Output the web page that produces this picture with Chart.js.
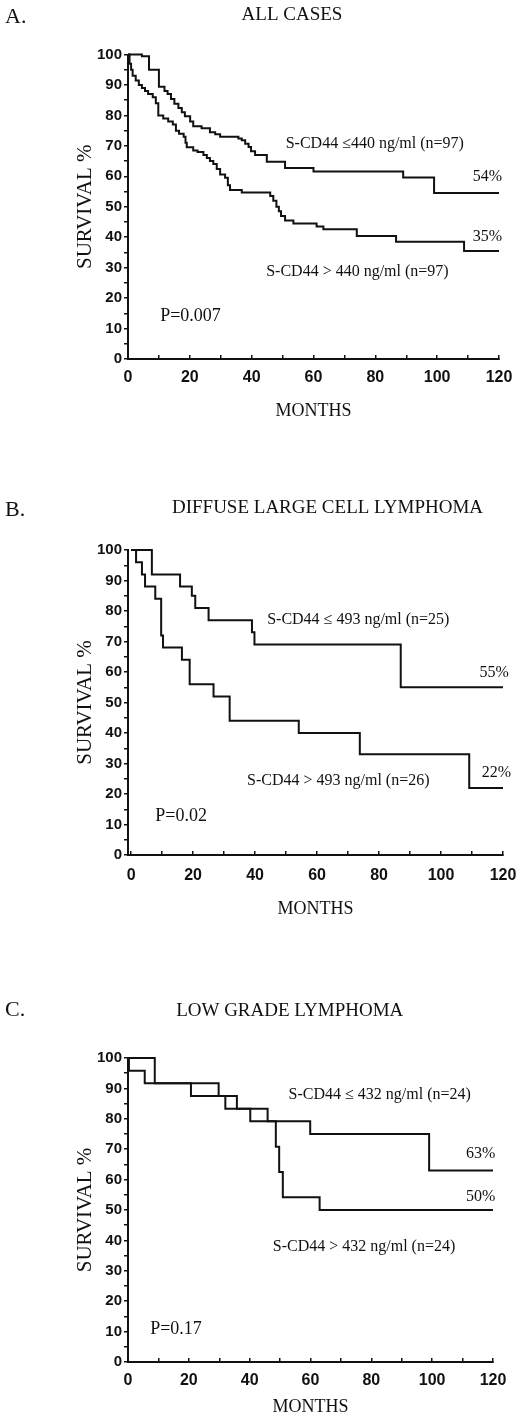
<!DOCTYPE html>
<html><head><meta charset="utf-8">
<script src="https://cdn.jsdelivr.net/npm/chart.js@4.4.1/dist/chart.umd.min.js"></script>
<style>
html,body{margin:0;padding:0;background:#fff;}
body{width:520px;height:1418px;position:relative;overflow:hidden;}
.p{position:absolute;left:0;width:520px;}
canvas{display:block;}
</style></head><body>
<div class="p" style="top:0;height:470px"><canvas id="cA" width="520" height="470"></canvas></div>
<div class="p" style="top:470px;height:490px"><canvas id="cB" width="520" height="490"></canvas></div>
<div class="p" style="top:960px;height:458px"><canvas id="cC" width="520" height="458"></canvas></div>
<script>
// ---------- data (months, survival %) ----------
const aLowMonths  = [0, 4.5, 6.8, 10.0, 11.8, 12.8, 13.9, 15.0, 16.3, 17.4, 18.4, 20.1, 21.1, 23.8, 26.5, 28.2, 29.8, 35.7, 36.8, 37.9, 39.0, 39.8, 41.1, 44.9, 50.8, 60.0, 89.0, 99.0, 120];
const aLowSurv    = [100, 99.4, 95, 89.4, 88, 87, 85.4, 83.8, 82.4, 81, 79.7, 78, 76.4, 75.8, 74.5, 73.8, 73, 72.4, 71.8, 70.7, 69.6, 68.2, 67, 64.8, 62.7, 61.6, 59.6, 54.5, 54.5];
const aHighMonths = [0, 0.5, 1.0, 1.5, 2.5, 3.5, 4.5, 5.5, 6.5, 8.0, 9.0, 9.8, 11.4, 13.0, 14.5, 15.5, 16.5, 18.0, 18.6, 19.0, 21.1, 22.5, 24.4, 25.5, 26.5, 27.6, 28.7, 29.8, 31.4, 32.3, 33.0, 36.8, 46.0, 47.0, 48.0, 48.8, 49.5, 50.8, 53.5, 61.0, 63.2, 74.0, 86.7, 108.7, 120];
const aHighSurv   = [100, 97, 95, 93, 91.5, 90, 89, 88, 87, 86, 84, 80, 79, 78, 77, 75, 74, 73, 71, 69.5, 68.5, 68, 67, 66, 65, 64, 62.4, 60.6, 59.5, 57.1, 55.5, 54.7, 53.5, 52, 50, 48.5, 47, 45.5, 44.5, 43.5, 42.6, 40.4, 38.5, 35.5, 35.5];

const bLowMonths  = [0, 6.7, 15.8, 19.6, 20.7, 25.0, 39.0, 39.8, 87.0, 120];
const bLowSurv    = [100, 92, 88, 85, 81, 77, 73, 69, 55, 55];
const bHighMonths = [0, 1.6, 3.5, 4.5, 7.8, 9.7, 10.3, 16.4, 18.9, 26.6, 31.8, 54.1, 73.8, 109.1, 120];
const bHighSurv   = [100, 96, 92, 88, 84, 72, 68, 64, 56, 52, 44, 40, 33, 22, 22];

const cLowMonths  = [0, 8.8, 29.8, 35.8, 45.9, 59.9, 99.0, 120];
const cLowSurv    = [100, 91.7, 87.5, 83.3, 79.2, 75, 63, 63];
const cHighMonths = [0, 0.3, 5.5, 20.7, 32.0, 40.2, 48.6, 49.7, 50.9, 63.0, 120];
const cHighSurv   = [100, 95.8, 91.7, 87.5, 83.3, 79.2, 70.8, 62.5, 54.2, 50, 50];

// ---------- ticks ----------
const xTickValues = [0, 10, 20, 30, 40, 50, 60, 70, 80, 90, 100, 110, 120];
const xTickLabels = ['0', '', '20', '', '40', '', '60', '', '80', '', '100', '', '120'];
const yTickValues = [0, 5, 10, 15, 20, 25, 30, 35, 40, 45, 50, 55, 60, 65, 70, 75, 80, 85, 90, 95, 100];
const yTickLabels = ['0', '', '10', '', '20', '', '30', '', '40', '', '50', '', '60', '', '70', '', '80', '', '90', '', '100'];

const INK = '#111';
const SERIF = '"Liberation Serif", "Times New Roman", serif';
const SANS = '"Liberation Sans", Arial, sans-serif';

const textPlugin = {
  id: 'panelText',
  afterDraw(chart, args, o) {
    const ctx = chart.ctx;
    ctx.save();
    ctx.fillStyle = INK;
    ctx.textBaseline = 'middle';
    ctx.textAlign = 'left';
    ctx.font = '22px ' + SERIF;
    ctx.fillText(o.letter, 5, o.letterY);
    ctx.textAlign = 'center';
    ctx.font = '19px ' + SERIF;
    ctx.fillText(o.title, o.titleX, o.titleY);
    const xs = chart.scales.x, ys = chart.scales.y;
    o.notes.forEach(n => {
      ctx.font = (n.size || 16) + 'px ' + SERIF;
      ctx.textAlign = n.align || 'left';
      ctx.fillText(n.text, xs.getPixelForValue(n.x), ys.getPixelForValue(n.y));
    });
    ctx.restore();
  }
};

function makeChart(id, c) {
  return new Chart(document.getElementById(id), {
    type: 'line',
    data: {
      datasets: c.series.map(s => ({
        data: s[0].map((m, i) => ({ x: m, y: s[1][i] })),
        stepped: 'before', borderColor: INK, borderWidth: 2, pointRadius: 0,
        fill: false, clip: false, tension: 0
      }))
    },
    options: {
      responsive: false, animation: false, events: [],
      layout: { padding: { top: c.top, left: 0, right: c.right, bottom: 0 } },
      plugins: {
        legend: { display: false }, tooltip: { enabled: false },
        panelText: c.text
      },
      scales: {
        x: {
          type: 'linear', min: c.xMin, max: 120,
          afterBuildTicks: s => { s.ticks = xTickValues.map(v => ({ value: v })); },
          afterFit: s => { s.height = c.xH; s.paddingLeft = 0; s.paddingRight = 0; },
          ticks: {
            callback: (v, i) => xTickLabels[i], autoSkip: false, maxRotation: 0,
            font: { family: SANS, size: 16, weight: 'bold' }, color: INK, padding: c.xTickPad
          },
          grid: { drawOnChartArea: false, drawTicks: true, tickLength: -4, color: INK, lineWidth: 1.5 },
          border: { display: true, color: INK, width: 2 },
          title: { display: true, text: 'MONTHS', color: INK, font: { family: SERIF, size: 18 }, padding: { top: 0, bottom: c.xTitlePad } }
        },
        y: {
          min: 0, max: 100,
          afterBuildTicks: s => { s.ticks = yTickValues.map(v => ({ value: v })); },
          afterFit: s => { s.width = 128; },
          ticks: {
            callback: (v, i) => yTickLabels[i], autoSkip: false,
            font: { family: SANS, size: 15, weight: 'bold' }, color: INK, padding: 2
          },
          grid: { drawOnChartArea: false, drawTicks: true, tickLength: 4, color: INK, lineWidth: 1.5 },
          border: { display: true, color: INK, width: 2 },
          title: { display: true, text: 'SURVIVAL %', color: INK, font: { family: SERIF, size: 21 }, padding: { top: 73, bottom: 0 } }
        }
      }
    },
    plugins: [textPlugin]
  });
}

makeChart('cA', {
  series: [[aLowMonths, aLowSurv], [aHighMonths, aHighSurv]],
  top: 54.5, right: 21, xH: 111, xTitlePad: 48, xTickPad: 13, xMin: 0,
  text: {
    letter: 'A.', letterY: 17, title: 'ALL CASES', titleX: 292, titleY: 15,
    notes: [
      { text: 'S-CD44 ≤440 ng/ml (n=97)', x: 51, y: 70.6 },
      { text: '54%', x: 121, y: 59.8, align: 'right' },
      { text: '35%', x: 121, y: 40, align: 'right' },
      { text: 'S-CD44 > 440 ng/ml (n=97)', x: 44.7, y: 28.7 },
      { text: 'P=0.007', x: 10.4, y: 14.1, size: 18 }
    ]
  }
});

makeChart('cB', {
  series: [[bLowMonths, bLowSurv], [bHighMonths, bHighSurv]],
  top: 80, right: 17, xH: 105, xTitlePad: 40, xTickPad: 15, xMin: -1,
  text: {
    letter: 'B.', letterY: 40, title: 'DIFFUSE LARGE CELL LYMPHOMA', titleX: 327.5, titleY: 38,
    notes: [
      { text: 'S-CD44 ≤ 493 ng/ml (n=25)', x: 43.9, y: 77 },
      { text: '55%', x: 121.9, y: 59.8, align: 'right' },
      { text: '22%', x: 122.6, y: 26.8, align: 'right' },
      { text: 'S-CD44 > 493 ng/ml (n=26)', x: 37.4, y: 24.4 },
      { text: 'P=0.02', x: 7.8, y: 12.6, size: 18 }
    ]
  }
});

makeChart('cC', {
  series: [[cLowMonths, cLowSurv], [cHighMonths, cHighSurv]],
  top: 98, right: 27, xH: 56, xTitlePad: 0, xTickPad: 13, xMin: 0,
  text: {
    letter: 'C.', letterY: 50, title: 'LOW GRADE LYMPHOMA', titleX: 289.7, titleY: 50.7,
    notes: [
      { text: 'S-CD44 ≤ 432 ng/ml (n=24)', x: 52.8, y: 87.8 },
      { text: '63%', x: 120.8, y: 68.4, align: 'right' },
      { text: '50%', x: 120.8, y: 54.4, align: 'right' },
      { text: 'S-CD44 > 432 ng/ml (n=24)', x: 47.6, y: 37.9 },
      { text: 'P=0.17', x: 7.3, y: 10.8, size: 18 }
    ]
  }
});
</script>
</body></html>
